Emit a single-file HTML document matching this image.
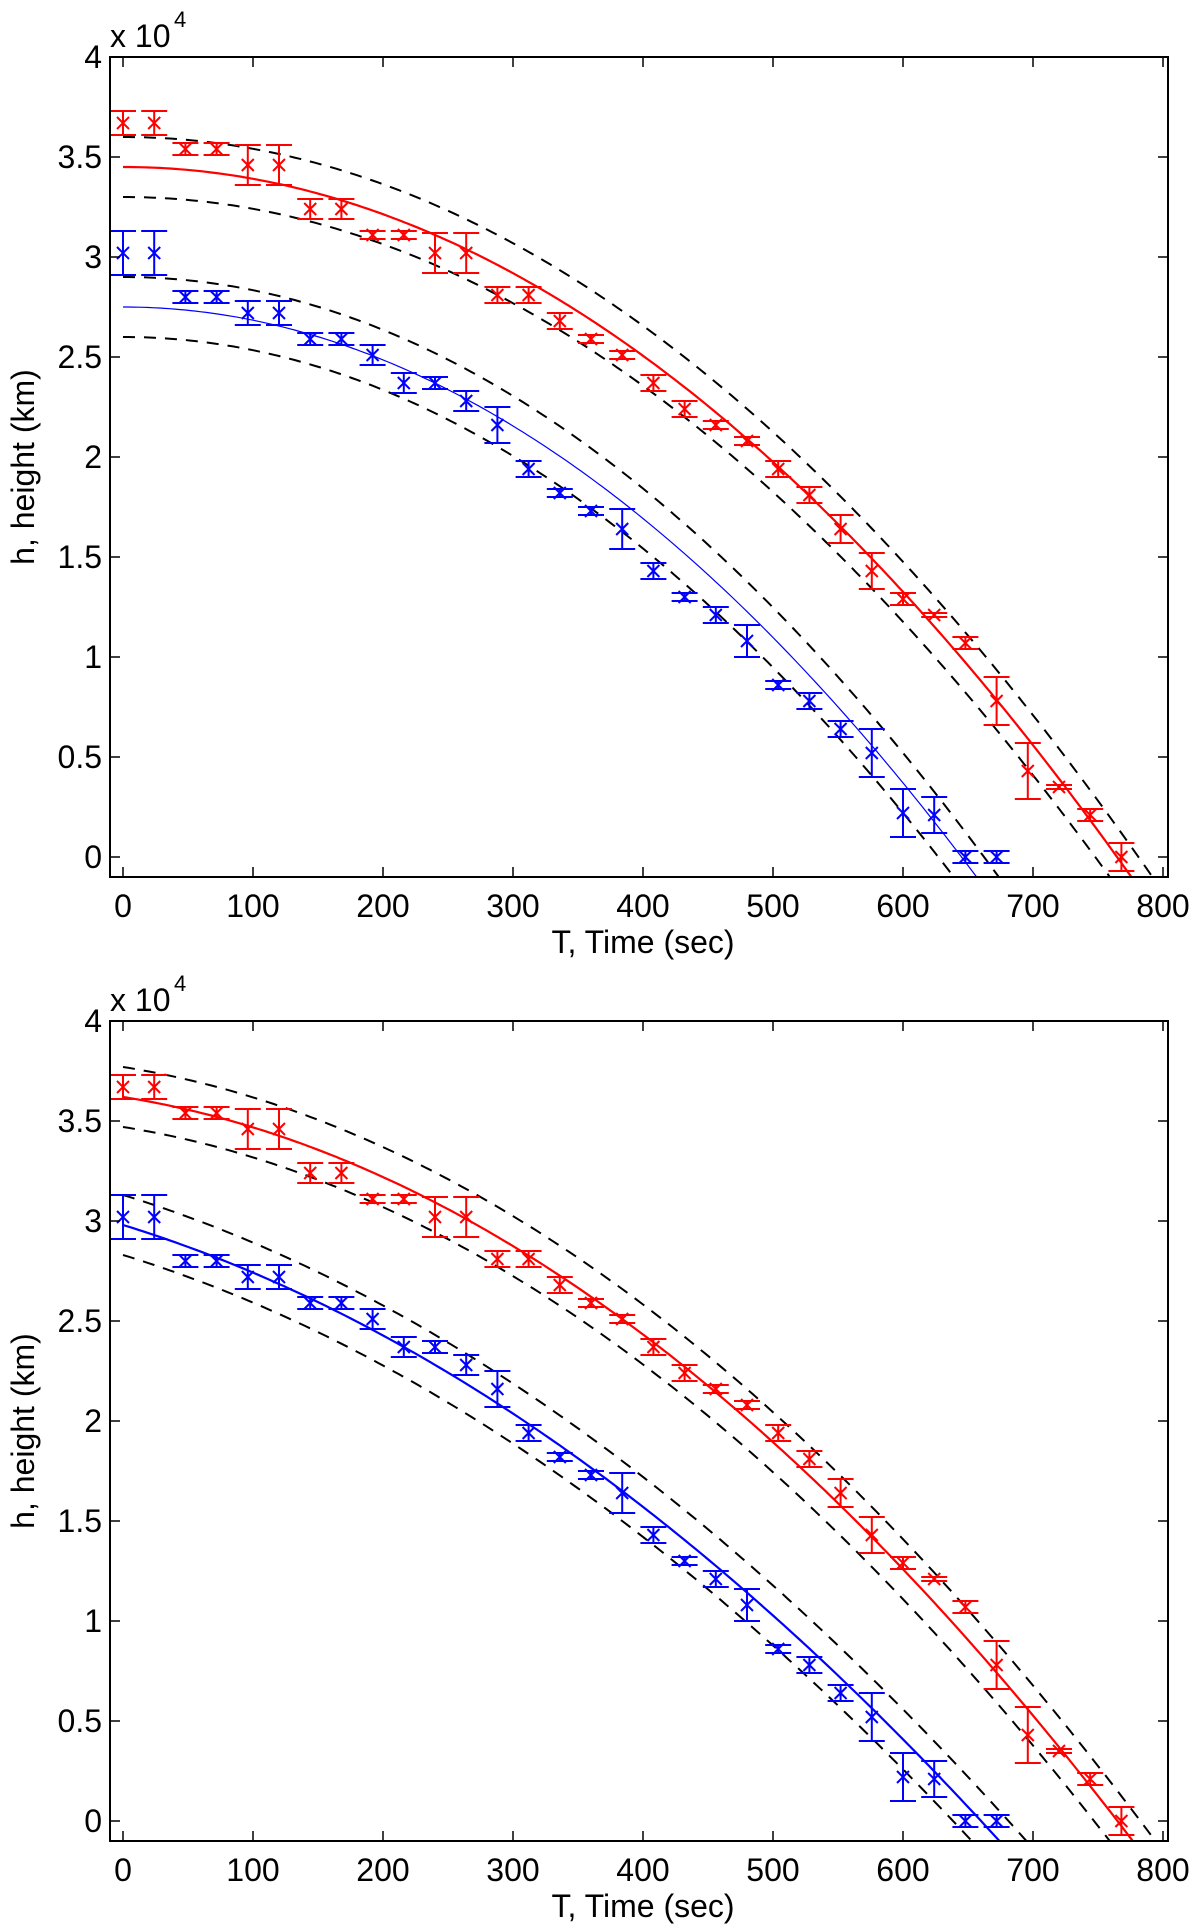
<!DOCTYPE html>
<html><head><meta charset="utf-8"><style>
html,body{margin:0;padding:0;background:#fff;overflow:hidden;width:1200px;height:1930px;}
svg{display:block;font-family:"Liberation Sans",Arial,sans-serif;}
</style></head><body>
<svg id="fig" width="1200" height="1930" viewBox="0 0 1200 1930" xmlns="http://www.w3.org/2000/svg"></svg>
<script>
const redTimes=[0,24,48,72,96,120,144,168,192,216,240,264,288,312,336,360,384,408,432,456,480,504,528,552,576,600,624,648,672,696,720,744,768];
const redH=[3.67,3.67,3.54,3.54,3.46,3.46,3.24,3.24,3.11,3.11,3.02,3.02,2.81,2.81,2.68,2.59,2.51,2.37,2.24,2.16,2.08,1.94,1.81,1.64,1.43,1.29,1.21,1.07,0.78,0.43,0.35,0.21,0.0];
const redErr=[0.06,0.06,0.03,0.03,0.1,0.1,0.05,0.05,0.02,0.02,0.1,0.1,0.04,0.04,0.04,0.02,0.02,0.04,0.04,0.02,0.02,0.04,0.04,0.07,0.09,0.03,0.01,0.03,0.12,0.14,0.01,0.03,0.07];
const blueTimes=[0,24,48,72,96,120,144,168,192,216,240,264,288,312,336,360,384,408,432,456,480,504,528,552,576,600,624,648,672];
const blueH=[3.02,3.02,2.80,2.80,2.72,2.72,2.59,2.59,2.51,2.37,2.37,2.28,2.16,1.94,1.82,1.73,1.64,1.43,1.30,1.21,1.08,0.86,0.78,0.64,0.52,0.22,0.21,0.0,0.0];
const blueErr=[0.11,0.11,0.03,0.03,0.06,0.06,0.03,0.03,0.05,0.05,0.03,0.05,0.09,0.04,0.02,0.02,0.1,0.04,0.02,0.04,0.08,0.02,0.04,0.04,0.12,0.12,0.09,0.03,0.03];
const xTicks=[0,100,200,300,400,500,600,700,800];
const yTicks=[0,0.5,1,1.5,2,2.5,3,3.5,4];
const topRedFit=[34500,0,0.059];
const topBlueFit=[27500,0,0.0661];
const botRedFit=[36200,10.35,0.04833];
const botBlueFit=[29800,20.0,0.0381];
const bandOffset=1500;

const NS="http://www.w3.org/2000/svg";
const svg=document.getElementById('fig');
function mk(tag,attrs,parent){const e=document.createElementNS(NS,tag);for(const k in attrs)e.setAttribute(k,attrs[k]);(parent||svg).appendChild(e);return e;}

function panel(top,fits,blueThin,idx){
  const L=110,R=1168,T=top,B=top+820;
  const sx=t=>123+1.3*t;
  const sy=v=>B-20-200*v;
  const g=mk('g',{});
  
  
  const cid='clip'+idx;
  const cp=mk('clipPath',{id:cid},g);mk('rect',{x:L,y:T,width:R-L,height:B-T},cp);
  const plot=mk('g',{'clip-path':'url(#'+cid+')'},g);
  const curve=(f,off,color,w,dash,name)=>{
    let d='';for(let t=0;t<=820;t+=4){const h=(f[0]+off-f[1]*t-f[2]*t*t)/10000;d+=(t?'L':'M')+sx(t).toFixed(1)+','+sy(h).toFixed(1);}
    const p=mk('path',{d:d,fill:'none',stroke:color,'stroke-width':w},plot);
    if(dash)p.setAttribute('stroke-dasharray',dash);
    
    
  };
  curve(fits[0],bandOffset,'#000',2,'12,9','red-upper-bound');
  curve(fits[0],-bandOffset,'#000',2,'12,9','red-lower-bound');
  curve(fits[1],bandOffset,'#000',2,'12,9','blue-upper-bound');
  curve(fits[1],-bandOffset,'#000',2,'12,9','blue-lower-bound');
  curve(fits[0],0,'#f00',2.2,null,'red-fit-line');
  curve(fits[1],0,'#00f',blueThin?1.2:2.2,null,'blue-fit-line');
  const series=(ts,hs,es,color,name)=>{
    ts.forEach((t,i)=>{
      const x=sx(t),y=sy(hs[i]),y1=sy(hs[i]+es[i]),y2=sy(hs[i]-es[i]);
      const pg=mk('g',{stroke:color,'stroke-width':2,fill:'none'},plot);
      
      
      mk('path',{d:`M${x},${y1}V${y2}M${x-13},${y1}H${x+13}M${x-13},${y2}H${x+13}M${x-6},${y-6}L${x+6},${y+6}M${x-6},${y+6}L${x+6},${y-6}`},pg);
    });
  };
  series(redTimes,redH,redErr,'#f00','red');
  series(blueTimes,blueH,blueErr,'#00f','blue');
  const box=mk('rect',{x:L,y:T,width:R-L,height:B-T,fill:'none',stroke:'#000','stroke-width':2},g);
  
  
  xTicks.forEach(v=>{
    const x=sx(v);
    mk('path',{d:`M${x},${B}v-10M${x},${T}v10`,stroke:'#000','stroke-width':1.5},g);
    const tx=mk('text',{x:x,y:B+40,'font-size':32,'text-anchor':'middle'},g);tx.textContent=v;
    
    
  });
  yTicks.forEach(v=>{
    const y=sy(v);
    mk('path',{d:`M${L},${y}h10M${R},${y}h-10`,stroke:'#000','stroke-width':1.5},g);
    const tx=mk('text',{x:L-8,y:y+11,'font-size':32,'text-anchor':'end'},g);tx.textContent=v;
    
    
  });
  const xl=mk('text',{x:643,y:B+76,'font-size':32,'text-anchor':'middle'},g);xl.textContent='T, Time (sec)';
  
  
  const yl=mk('text',{x:0,y:0,'font-size':32,'text-anchor':'middle',transform:`translate(34,${(T+B)/2}) rotate(-90)`},g);yl.textContent='h, height (km)';
  
  
  const ex=mk('text',{x:110,y:T-10,'font-size':32},g);ex.textContent='x 10';
  
  
  const sup=mk('text',{x:174,y:T-30,'font-size':22},g);sup.textContent='4';
}
panel(57,[topRedFit,topBlueFit],true,1);
panel(1021,[botRedFit,botBlueFit],false,2);
</script>
</body></html>
